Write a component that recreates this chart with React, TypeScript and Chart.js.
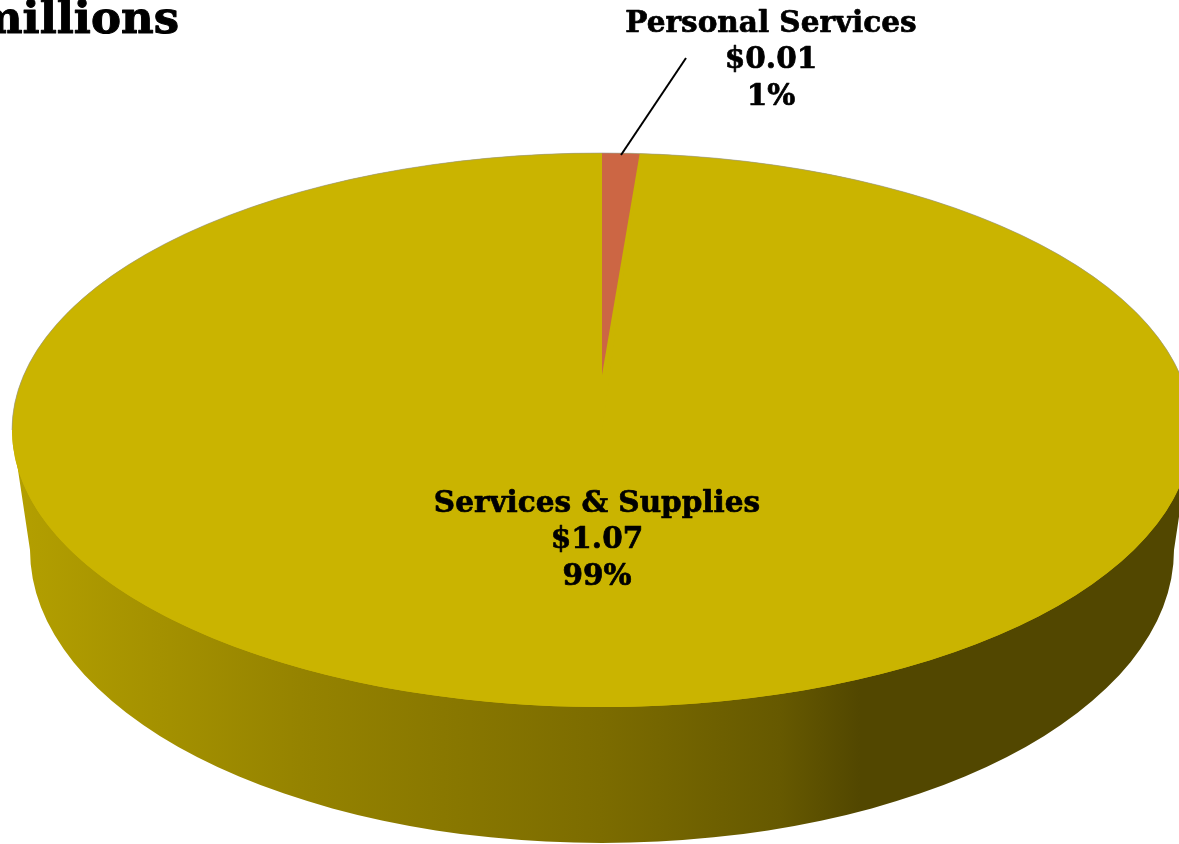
import React, { useEffect, useRef } from "react";
import { Chart, registerables } from "chart.js";

Chart.register(...registerables);

const categories = ["Personal Services", "Services & Supplies"];
const amounts = [0.011, 1.07];
const amountLabels = ["$0.01", "$1.07"];
const percentLabels = ["1%", "99%"];
const sliceColors = ["#CC6644", "#CAB400"];
const titleText = "millions";

const FONT = '"DejaVu Serif", serif';

const pie3d = {
  id: "pie3d",
  beforeDatasetsDraw(chart: any) {
    const { ctx } = chart;
    const arcs = chart.getDatasetMeta(0).data;
    const cx = 602, cy = 430, rx = 590, ry = 277;
    const wallCy = 550, wallRx = 572, wallRy = 293;

    ctx.save();
    // side wall
    const g = ctx.createLinearGradient(0, 0, 1179, 0);
    const stops: [number, string][] = [
      [20, "#B39F00"], [300, "#958300"], [600, "#7C6C00"],
      [780, "#665900"], [860, "#524700"], [1179, "#524700"],
    ];
    stops.forEach(([x, c]) => g.addColorStop(x / 1179, c));
    ctx.fillStyle = g;
    ctx.beginPath();
    ctx.moveTo(cx - rx, cy);
    ctx.ellipse(cx, wallCy, wallRx, wallRy, 0, Math.PI, 0, true);
    ctx.lineTo(cx + rx, cy);
    ctx.closePath();
    ctx.fill();

    // top disc, so the off-centre apex of the tilted slice leaves no gap
    ctx.fillStyle = sliceColors[1];
    ctx.beginPath();
    ctx.ellipse(cx, cy, rx, ry, 0, 0, Math.PI * 2);
    ctx.fill();

    // big slice, flattened
    const big = arcs[1];
    ctx.save();
    ctx.translate(cx, cy);
    ctx.scale(rx / big.outerRadius, ry / big.outerRadius);
    ctx.translate(-big.x, -big.y);
    big.draw(ctx);
    ctx.restore();

    // small slice: apex is nearer the far edge because of the perspective
    const small = arcs[0];
    const apexY = 375;
    ctx.save();
    ctx.beginPath();
    ctx.ellipse(cx, cy, rx, ry, 0, 0, Math.PI * 2);
    ctx.clip();
    ctx.translate(cx, apexY);
    ctx.scale(rx / small.outerRadius, (apexY - (cy - ry)) / small.outerRadius);
    ctx.translate(-small.x, -small.y);
    small.draw(ctx);
    ctx.restore();

    // thin rim along the far edge
    ctx.strokeStyle = "rgba(150,150,150,0.6)";
    ctx.lineWidth = 1;
    ctx.beginPath();
    ctx.ellipse(cx, cy, rx, ry, 0, Math.PI, 0);
    ctx.stroke();

    // leader line
    ctx.strokeStyle = "#000000";
    ctx.lineWidth = 2;
    ctx.beginPath();
    ctx.moveTo(686, 58);
    ctx.lineTo(621, 155);
    ctx.stroke();

    // texts
    ctx.fillStyle = "#000000";
    ctx.strokeStyle = "#000000";
    ctx.lineJoin = "round";
    ctx.textBaseline = "alphabetic";
    ctx.textAlign = "center";
    ctx.font = `bold 29.5px ${FONT}`;
    ctx.lineWidth = 0.7;
    const anchors = [
      { x: 771, y: 32 },
      { x: 597, y: 512 },
    ];
    const put = (t: string, x: number, y: number) => {
      ctx.fillText(t, x, y);
      ctx.strokeText(t, x, y);
    };
    categories.forEach((c, i) => {
      const a = anchors[i];
      put(c, a.x, a.y);
      put(amountLabels[i], a.x, a.y + 36);
      put(percentLabels[i], a.x, a.y + 73);
    });
    ctx.textAlign = "right";
    ctx.font = `bold 45px ${FONT}`;
    ctx.lineWidth = 1;
    put(titleText, 179, 33);
    ctx.restore();
    return false;
  },
};

export default function App() {
  const ref = useRef<HTMLCanvasElement>(null);
  useEffect(() => {
    const chart = new Chart(ref.current as HTMLCanvasElement, {
      type: "pie",
      data: {
        labels: categories,
        datasets: [{ data: amounts, backgroundColor: sliceColors, borderWidth: 0 }],
      },
      options: {
        animation: false,
        responsive: false,
        devicePixelRatio: 1,
        plugins: { legend: { display: false }, tooltip: { enabled: false } },
      },
      plugins: [pie3d],
    } as any);
    return () => chart.destroy();
  }, []);
  return (
    <div style={{ position: "fixed", left: 0, top: 0, width: 1179, height: 844, overflow: "hidden", background: "#fff" }}>
      <canvas ref={ref} width={1179} height={844} style={{ display: "block" }} />
    </div>
  );
}
